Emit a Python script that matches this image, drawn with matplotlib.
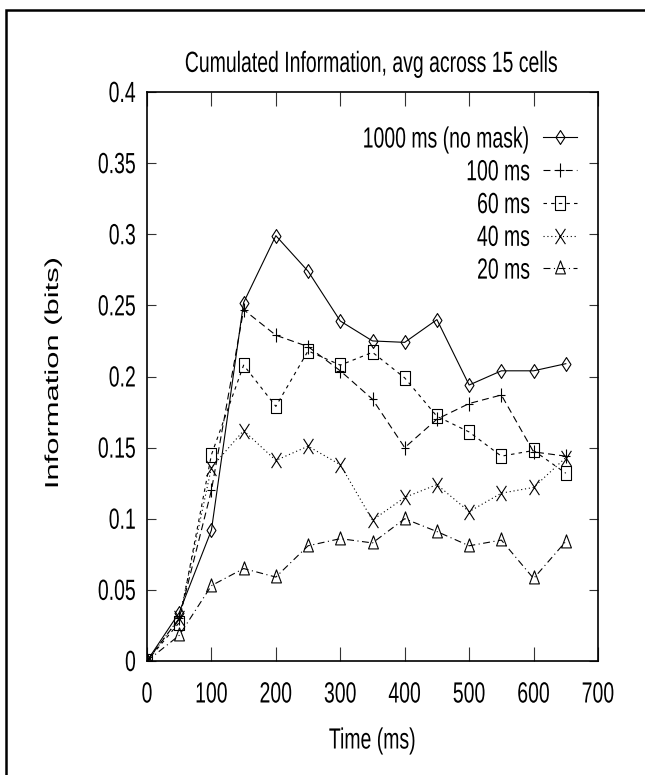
import matplotlib
matplotlib.use('Agg')
import matplotlib.pyplot as plt
from matplotlib.path import Path
from matplotlib.lines import Line2D
from matplotlib.patheffects import AbstractPathEffect
from matplotlib.transforms import Affine2D

time_ms = [0, 50, 100, 150, 200, 250, 300, 350, 400, 450, 500, 550, 600, 650]
info_1000 = [0, 0.034, 0.092, 0.252, 0.299, 0.274, 0.239, 0.225, 0.224, 0.240, 0.194, 0.204, 0.204, 0.209]
info_100 = [0, 0.030, 0.120, 0.247, 0.229, 0.221, 0.204, 0.184, 0.150, 0.170, 0.181, 0.187, 0.147, 0.144]
info_60 = [0, 0.027, 0.145, 0.208, 0.179, 0.218, 0.208, 0.217, 0.199, 0.172, 0.161, 0.144, 0.148, 0.132]
info_40 = [0, 0.030, 0.136, 0.162, 0.141, 0.151, 0.138, 0.099, 0.115, 0.124, 0.105, 0.118, 0.122, 0.143]
info_20 = [0, 0.018, 0.053, 0.065, 0.059, 0.081, 0.086, 0.083, 0.100, 0.091, 0.081, 0.085, 0.058, 0.084]
labels = ['1000 ms (no mask)', '100 ms', '60 ms', '40 ms', '20 ms']

x_ticks = [0, 100, 200, 300, 400, 500, 600, 700]
y_ticks = [0, 0.05, 0.1, 0.15, 0.2, 0.25, 0.3, 0.35, 0.4]
y_tick_labels = ['0', '0.05', '0.1', '0.15', '0.2', '0.25', '0.3', '0.35', '0.4']

plt.rcParams['font.family'] = ['Liberation Sans', 'DejaVu Sans']
plt.rcParams['lines.scale_dashes'] = False


class StretchY(AbstractPathEffect):
    # the original figure was squashed sideways, text looks tall and narrow
    def __init__(self, sy=1.5):
        super().__init__()
        self.sy = sy

    def draw_path(self, renderer, gc, tpath, affine, rgbFace=None):
        ext = tpath.get_extents()
        px, py = affine.transform((ext.x0 + ext.width / 2, 36))
        stretch = Affine2D().translate(-px, -py).scale(1, self.sy).translate(px, py)
        renderer.draw_path(gc, tpath, affine + stretch, rgbFace)


# gnuplot style point types, taller than wide
k = 1.55
MV, LN = Path.MOVETO, Path.LINETO
diamond = Path([(0, -k), (1, 0), (0, k), (-1, 0), (0, -k)], closed=True)
square = Path([(-1, -k), (1, -k), (1, k), (-1, k), (-1, -k)], closed=True)
plus = Path([(-1, 0), (1, 0), (0, -k), (0, k)], [MV, LN, MV, LN])
cross = Path([(-1, -k), (1, k), (-1, k), (1, -k)], [MV, LN, MV, LN])
triangle = Path([(-1, -1.1), (1, -1.1), (0, k), (-1, -1.1)], closed=True)

fig = plt.figure(figsize=(6.45, 7.75), dpi=100)
ax = fig.add_axes([147 / 645, 1 - 661 / 775, 451 / 645, 569 / 775])

series = [info_1000, info_100, info_60, info_40, info_20]
markers = [diamond, plus, square, cross, triangle]
msizes = [10, 10, 10.5, 11, 11]
styles = ['-', (0, (5, 3)), (0, (2.5, 3)), (0, (0.8, 2)), (0, (5, 2.5, 0.8, 2.5))]

for vals, lab, m, ms, ls in zip(series, labels, markers, msizes, styles):
    ax.plot(time_ms, vals, color='black', lw=0.8, linestyle=ls, marker=m,
            markersize=ms, mfc='none', mec='black', mew=0.8, label=lab)

ax.set_xlim(0, 700)
ax.set_ylim(0, 0.4)
ax.set_xticks(x_ticks)
ax.set_yticks(y_ticks)
ax.set_yticklabels(y_tick_labels)
ax.tick_params(direction='in', top=True, right=True, labelsize=14, width=0.8, color='#333333')
ax.tick_params(axis='x', length=10, pad=18)
ax.tick_params(axis='y', length=6.5, pad=8)
for sp in ax.spines.values():
    sp.set_linewidth(1.2)

title = ax.set_title('Cumulated Information, avg across 15 cells', fontsize=14, pad=17)
xlab = ax.set_xlabel('Time (ms)', fontsize=14)
ax.xaxis.set_label_coords(0.5, -0.1248)
ylab = fig.text(53.5 / 645, 1 - 373 / 775, 'Information (bits)', rotation=90,
                ha='center', va='center', fontsize=13.5)

leg = ax.legend(loc='upper right', bbox_to_anchor=(0.9534, 0.9325), frameon=False,
                markerfirst=False, handlelength=1.75, handletextpad=0.65,
                labelspacing=0.78, borderpad=0, borderaxespad=0, fontsize=14)

for t in [title, xlab] + leg.get_texts() + ax.get_xticklabels() + ax.get_yticklabels():
    t.set_path_effects([StretchY(1.5)])
ylab.set_path_effects([StretchY(1.65)])

# page border, only left and top edges fall inside the picture
bx, by = 6 / 645, 1 - 10 / 775
fig.add_artist(Line2D([bx, bx, 1.0], [0.0, by, by], transform=fig.transFigure,
                      lw=1.8, color='black', solid_joinstyle='miter'))

fig.savefig('out.png', dpi=100, facecolor='white')
